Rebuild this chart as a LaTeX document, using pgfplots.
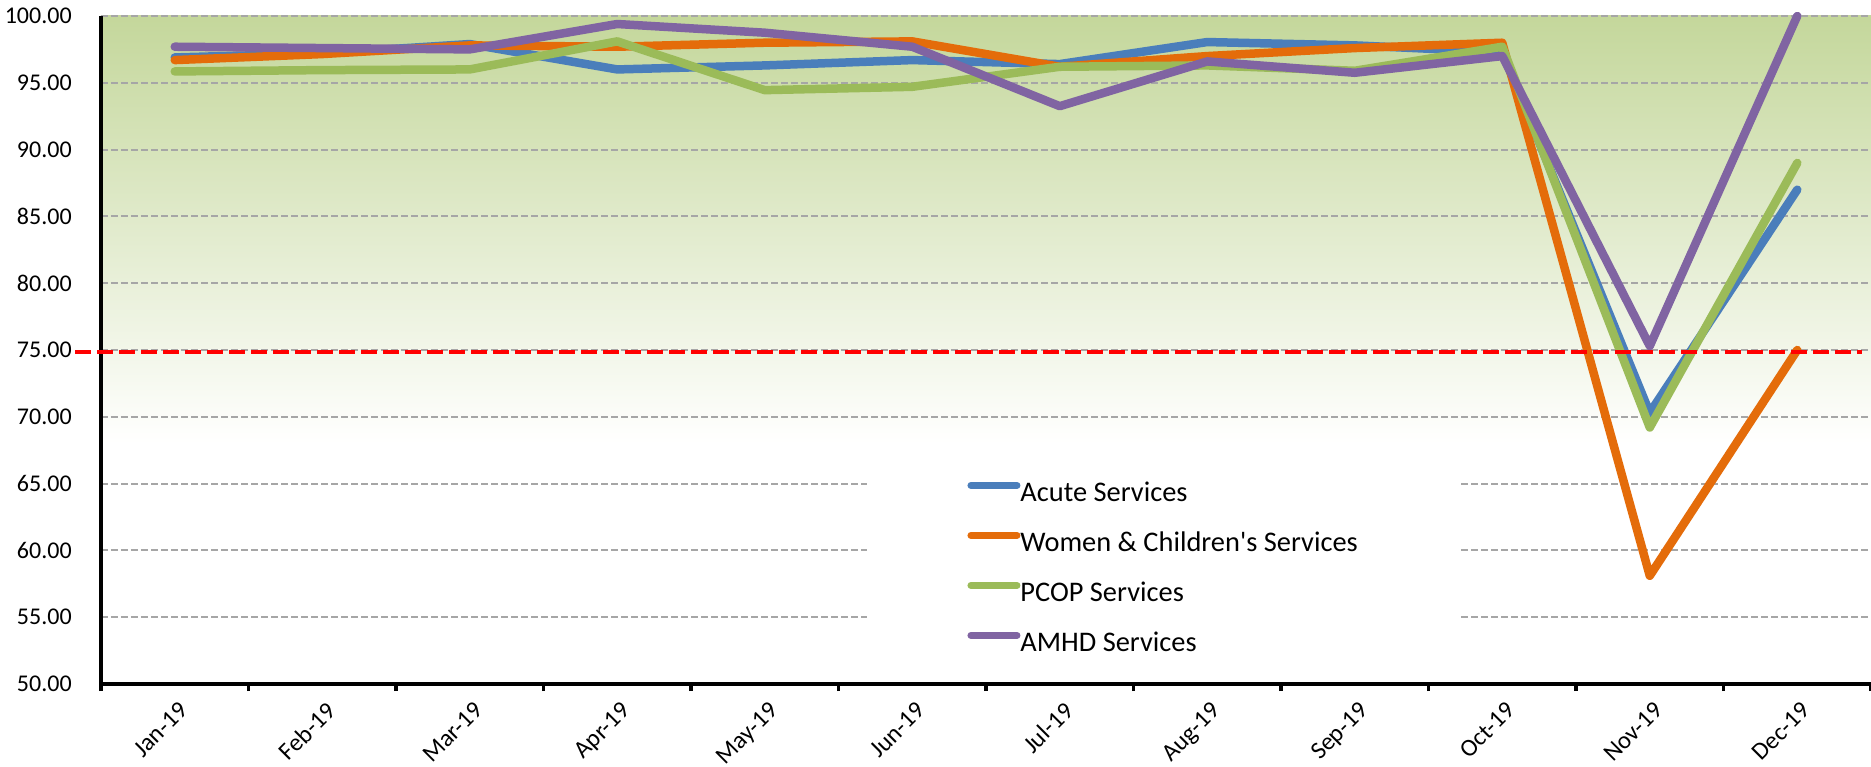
\documentclass[border=0pt]{standalone}
\usepackage{fontspec}
\setmainfont{Carlito}[Ligatures=TeXOff]
\usepackage{pgfplots}
\pgfplotsset{compat=1.18}
\definecolor{cblue}{HTML}{4A7EBB}
\definecolor{corange}{HTML}{E46C0A}
\definecolor{cgreen}{HTML}{9BBB59}
\definecolor{cpurple}{HTML}{8064A2}
\definecolor{bgtop}{HTML}{C4D79B}
\definecolor{gridgray}{HTML}{A6A6A6}
\pgfdeclareverticalshading{bgfade}{100bp}{color(0bp)=(white); color(25bp)=(white); color(43bp)=(white); color(75bp)=(bgtop); color(100bp)=(bgtop)}
\pgfplotsset{/pgf/number format/assume math mode=true}
\begin{document}
\begin{tikzpicture}
\useasboundingbox (-50.5pt,-41pt) rectangle (885pt,342pt);
\begin{axis}[
  scale only axis, width=885pt, height=334pt,
  anchor=south west, at={(0pt,0pt)},
  xmin=-0.5, xmax=11.5, ymin=50, ymax=100,
  clip=false,
  axis background/.style={shading=bgfade},
  axis lines=left,
  axis line style={-, line width=1.6pt, black},
  xtick={0,...,11},
  xticklabels={Jan-19,Feb-19,Mar-19,Apr-19,May-19,Jun-19,Jul-19,Aug-19,Sep-19,Oct-19,Nov-19,Dec-19},
  xtick style={draw=none},
  extra x ticks={-0.5,0.5,1.5,2.5,3.5,4.5,5.5,6.5,7.5,8.5,9.5,10.5,11.5},
  extra x tick labels={},
  extra x tick style={xtick style={draw=black, line width=1.6pt}, tick align=outside, major tick length=3.5pt, grid=none},
  xticklabel style={font=\fontsize{12.3}{14}\selectfont, inner sep=0pt, xshift=1.5pt, yshift=-6pt, rotate=45, anchor=north east},
  ytick={50,55,...,100},
  ytick style={draw=none},
  yticklabel style={/pgf/number format/.cd, fixed, fixed zerofill, precision=2, /tikz/.cd, font=\fontsize{12}{14}\selectfont, xshift=-9pt},
  ymajorgrids,
  grid style={gridgray, line width=1pt, dash pattern=on 3.5pt off 1.5pt},
  legend style={at={(rel axis cs:0.4328,0.3398)}, anchor=north west, fill=white, draw=none,
    inner xsep=50pt, inner ysep=12pt, font=\fontsize{14.2}{16}\selectfont, row sep=12pt,
    nodes={inner sep=0pt, text height=10pt, text depth=3pt},
    /tikz/every even column/.append style={column sep=2pt}},
  legend cell align=left,
  legend image code/.code={\draw[#1, line width=3.5pt, line cap=round] (0pt,4.5pt) -- (23pt,4.5pt);},
  every axis plot/.append style={line width=4.25pt, line join=round, line cap=round},
]
\addplot[cblue] coordinates {(0,96.9) (1,97.2) (2,97.9) (3,96.0) (4,96.3) (5,96.7) (6,96.4) (7,98.05) (8,97.8) (9,97.3) (10,70.3) (11,87.0)};
\addlegendentry{Acute Services}
\addplot[corange] coordinates {(0,96.7) (1,97.15) (2,97.8) (3,97.7) (4,98.0) (5,98.1) (6,96.2) (7,97.0) (8,97.6) (9,98.0) (10,58.1) (11,75.0)};
\addlegendentry{Women \& Children's Services}
\addplot[cgreen] coordinates {(0,95.85) (1,95.95) (2,96.0) (3,98.1) (4,94.45) (5,94.7) (6,96.2) (7,96.3) (8,95.9) (9,97.7) (10,69.2) (11,89.0)};
\addlegendentry{PCOP Services}
\addplot[cpurple] coordinates {(0,97.7) (1,97.6) (2,97.5) (3,99.4) (4,98.75) (5,97.7) (6,93.25) (7,96.6) (8,95.75) (9,97.0) (10,75.3) (11,100)};
\addlegendentry{AMHD Services}
\addplot[red, line width=2.2pt, line cap=butt, dash pattern=on 8pt off 3pt, forget plot] coordinates {(-0.676,74.85) (11.44,74.85)};
\end{axis}
\end{tikzpicture}
\end{document}
